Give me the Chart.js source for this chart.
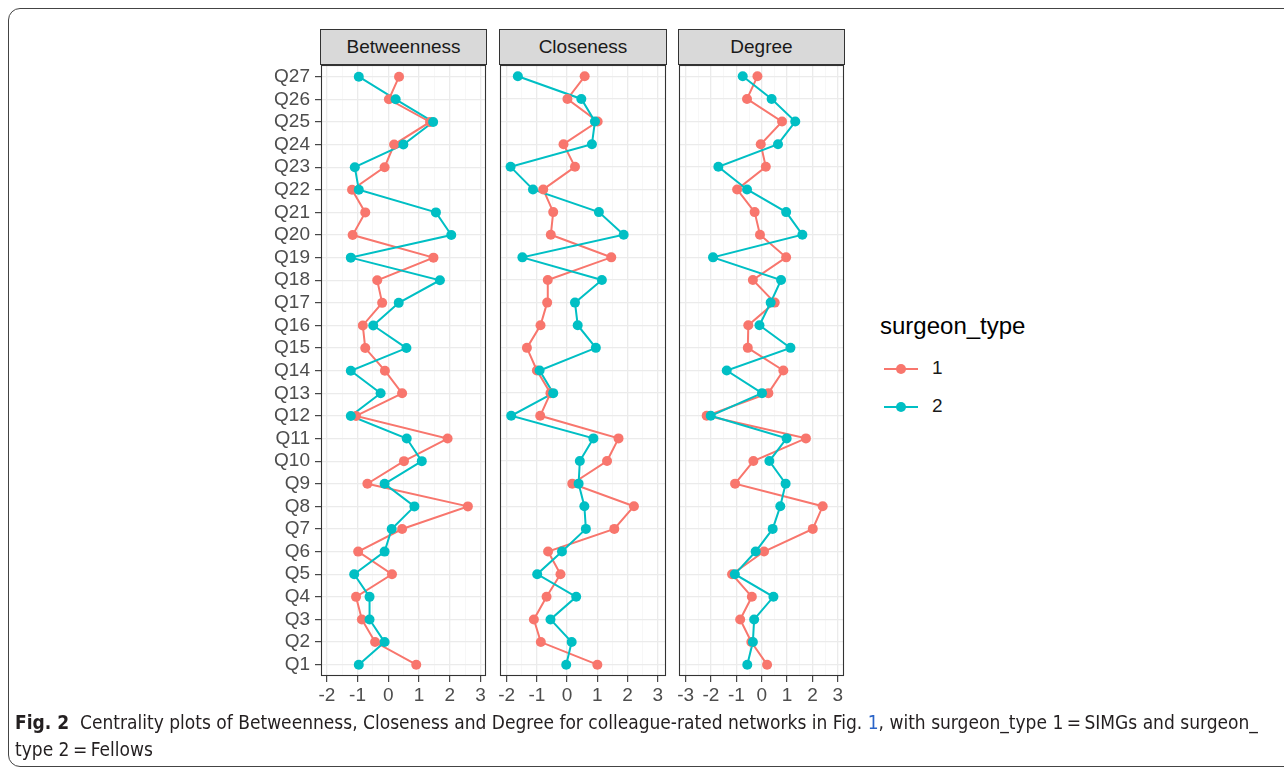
<!DOCTYPE html>
<html>
<head>
<meta charset="utf-8">
<script src="https://cdn.jsdelivr.net/npm/chart.js@4.4.1/dist/chart.umd.min.js"></script>
<style>
  body { margin:0; width:1284px; height:771px; background:#fff; position:relative; overflow:hidden;
         font-family:'Liberation Sans', Arial, sans-serif; }
  .frame { position:absolute; left:8px; top:8px; width:1300px; height:757px; border:1px solid #444; border-radius:12px; }
  .strip { position:absolute; top:29px; height:36px; background:#d9d9d9; border:1px solid #333; box-sizing:border-box;
           text-align:center; line-height:34px; font-size:19px; color:#1a1a1a; }
  .cv { position:absolute; top:49px; }
  .ltitle { position:absolute; left:880px; top:312px; font-size:24px; color:#000; }
  .litem { position:absolute; left:884px; height:20px; }
  .litem .ln { position:absolute; left:0; top:9px; width:34px; height:2px; }
  .litem .dot { position:absolute; left:12px; top:5px; width:10px; height:10px; border-radius:50%; }
  .litem .lb { position:absolute; left:48px; top:-2px; font-size:19px; color:#1a1a1a; }
  .caption { position:absolute; left:15px; top:709px; width:1260px; font-family:'DejaVu Sans Condensed','Liberation Sans Narrow',sans-serif;
             font-size:19px; line-height:27px; color:#231f20; }
  .caption a { color:#2a64c8; text-decoration:none; }
</style>
</head>
<body>
<div class="frame"></div>

<div class="strip" style="left:320px;width:167px">Betweenness</div>
<div class="strip" style="left:499px;width:168px">Closeness</div>
<div class="strip" style="left:678px;width:167px">Degree</div>

<canvas id="cB" class="cv" style="left:240px" width="254" height="661"></canvas>
<canvas id="cC" class="cv" style="left:490px" width="184" height="661"></canvas>
<canvas id="cD" class="cv" style="left:669px" width="183" height="661"></canvas>

<div class="ltitle">surgeon_type</div>
<div class="litem" id="leg1" style="top:359px"><div class="ln"></div><div class="dot"></div><div class="lb">1</div></div>
<div class="litem" id="leg2" style="top:397px"><div class="ln"></div><div class="dot"></div><div class="lb">2</div></div>

<div class="caption"><b>Fig. 2</b>&nbsp; Centrality plots of Betweenness, Closeness and Degree for colleague-rated networks in Fig. <a>1</a>, with surgeon_type 1&thinsp;=&thinsp;SIMGs and surgeon_<br>type 2&thinsp;=&thinsp;Fellows</div>

<script>
const categories = ['Q1','Q2','Q3','Q4','Q5','Q6','Q7','Q8','Q9','Q10','Q11','Q12','Q13','Q14',
  'Q15','Q16','Q17','Q18','Q19','Q20','Q21','Q22','Q23','Q24','Q25','Q26','Q27'];

// surgeon_type 1 / 2, Q1 .. Q27
const betweenness1 = [0.91,-0.43,-0.86,-1.05,0.12,-0.98,0.45,2.59,-0.68,0.51,1.93,-1.05,0.45,-0.11,
  -0.75,-0.83,-0.20,-0.36,1.47,-1.16,-0.75,-1.18,-0.12,0.19,1.36,0.02,0.35];
const betweenness2 = [-0.96,-0.12,-0.61,-0.61,-1.11,-0.12,0.11,0.85,-0.12,1.09,0.60,-1.22,-0.25,-1.22,
  0.59,-0.49,0.34,1.68,-1.22,2.05,1.55,-0.96,-1.09,0.49,1.46,0.24,-0.96];
const closeness1 = [1.00,-0.87,-1.10,-0.68,-0.22,-0.63,1.56,2.21,0.17,1.32,1.70,-0.89,-0.55,-1.00,
  -1.33,-0.88,-0.66,-0.64,1.46,-0.54,-0.46,-0.79,0.26,-0.12,1.01,0.01,0.58];
const closeness2 = [-0.03,0.15,-0.55,0.30,-0.99,-0.17,0.62,0.57,0.38,0.42,0.87,-1.85,-0.46,-0.91,
  0.95,0.35,0.26,1.15,-1.48,1.87,1.05,-1.13,-1.87,0.82,0.92,0.47,-1.63];
const degree1 = [0.21,-0.41,-0.85,-0.39,-1.17,0.09,2.01,2.40,-1.05,-0.33,1.74,-2.17,0.26,0.85,
  -0.55,-0.53,0.51,-0.35,0.96,-0.07,-0.28,-0.97,0.16,-0.04,0.80,-0.58,-0.17];
const degree2 = [-0.57,-0.35,-0.30,0.46,-1.06,-0.24,0.43,0.73,0.94,0.30,0.98,-2.01,0.01,-1.38,
  1.13,-0.09,0.35,0.76,-1.92,1.60,0.96,-0.58,-1.71,0.64,1.32,0.39,-0.75];

const betweennessTicks = [-2,-1,0,1,2,3];
const closenessTicks = [-2,-1,0,1,2,3];
const degreeTicks = [-3,-2,-1,0,1,2,3];

const RED = '#F8766D', TEAL = '#00BFC4';

document.querySelector('#leg1 .ln').style.background = RED;
document.querySelector('#leg1 .dot').style.background = RED;
document.querySelector('#leg2 .ln').style.background = TEAL;
document.querySelector('#leg2 .dot').style.background = TEAL;

// ggplot-ish full panel border
const panelBorder = {
  id: 'panelBorder',
  afterDraw(chart) {
    const a = chart.chartArea, c = chart.ctx;
    c.save();
    c.strokeStyle = '#333';
    c.lineWidth = 1.1;
    c.strokeRect(Math.round(a.left) + 0.5, Math.round(a.top) + 0.5,
      Math.round(a.right - a.left) - 1, Math.round(a.bottom - a.top) - 1);
    c.restore();
  }
};

function withMinors(majors) {
  const out = [];
  majors.forEach((v, i) => { out.push(v); if (i < majors.length - 1) out.push(v + 0.5); });
  return out;
}

function makePanel(canvasId, s1, s2, majors, min, max, yW, showY) {
  const font = { family: "'Liberation Sans', Arial, sans-serif", size: 19 };
  const isMajor = ctx => ctx.tick && Number.isInteger(ctx.tick.value);
  return new Chart(document.getElementById(canvasId), {
    type: 'line',
    data: {
      labels: categories,
      datasets: [
        { data: s1, borderColor: RED, borderWidth: 2, pointRadius: 0, order: 4 },
        { data: s2, borderColor: TEAL, borderWidth: 2, pointRadius: 0, order: 3 },
        { data: s1, showLine: false, pointRadius: 5, pointBackgroundColor: RED, pointBorderWidth: 0, order: 2 },
        { data: s2, showLine: false, pointRadius: 5, pointBackgroundColor: TEAL, pointBorderWidth: 0, order: 1 },
      ]
    },
    options: {
      responsive: false, animation: false, indexAxis: 'y',
      layout: { padding: { top: 16, right: 8, left: 0, bottom: 0 } },
      plugins: { legend: { display: false }, tooltip: { enabled: false } },
      scales: {
        x: {
          type: 'linear', min, max,
          afterBuildTicks: s => { s.ticks = withMinors(majors).map(v => ({ value: v })); },
          afterFit: s => { s.height = 34; },
          border: { display: false },
          grid: {
            color: ctx => isMajor(ctx) ? '#ebebeb' : '#f3f3f3',
            lineWidth: ctx => isMajor(ctx) ? 1.3 : 0.7,
            tickColor: ctx => isMajor(ctx) ? '#333' : 'rgba(0,0,0,0)',
            tickWidth: 1.1, tickLength: 6,
          },
          ticks: { autoSkip: false, maxRotation: 0, padding: 2, color: '#4d4d4d', font,
                   callback: v => Number.isInteger(v) ? String(v) : '' }
        },
        y: {
          type: 'category', reverse: true, offset: true,
          afterFit: s => { s.width = yW; },
          border: { display: false },
          grid: { offset: false, color: '#ebebeb', lineWidth: 1.3, drawTicks: showY,
                  tickColor: '#333', tickWidth: 1.1, tickLength: 6 },
          ticks: { display: showY, autoSkip: false, padding: 5, color: '#4d4d4d', font }
        }
      }
    },
    plugins: [panelBorder]
  });
}

makePanel('cB', betweenness1, betweenness2, betweennessTicks, -2.19, 3.18, 81, true);
makePanel('cC', closeness1, closeness2, closenessTicks, -2.22, 3.27, 10, false);
makePanel('cD', degree1, degree2, degreeTicks, -3.26, 3.24, 10, false);
</script>
</body>
</html>
